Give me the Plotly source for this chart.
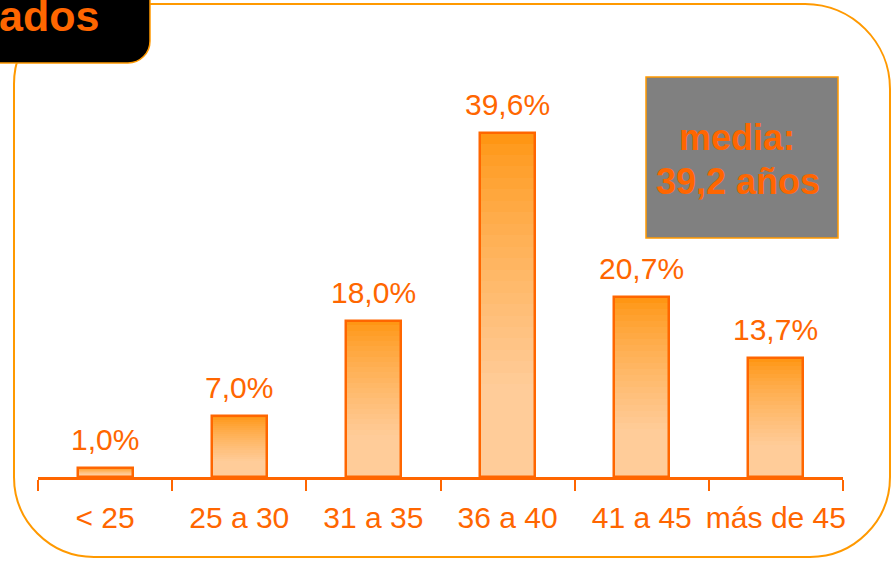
import plotly.graph_objects as go

categories = ["< 25", "25 a 30", "31 a 35", "36 a 40", "41 a 45", "más de 45"]
values = [1.0, 7.0, 18.0, 39.6, 20.7, 13.7]
labels = ["1,0%", "7,0%", "18,0%", "39,6%", "20,7%", "13,7%"]
media_lines = ["media:", "39,2 años"]
title_fragment = "ados"

ORANGE = "#FF6600"
FRAME = "#FF9900"
W, H = 892, 563
ML, MR, MT, MB = 38, 49, 60, 86
PW, PH = W - ML - MR, H - MT - MB
YMAX = 48.0
BAR_W = 0.41


def px(x):
    return (x - ML) / PW


def py(y):
    return (H - MB - y) / PH


def lerp(c1, c2, t):
    return "rgb(%d,%d,%d)" % tuple(round(a + (b - a) * t) for a, b in zip(c1, c2))


top_c = (255, 150, 20)
bot_c = (255, 204, 153)

fig = go.Figure()

# light base bar
fig.add_trace(go.Bar(x=categories, y=values, width=BAR_W,
                     marker=dict(color=lerp(top_c, bot_c, 1.0), line=dict(width=0)),
                     hoverinfo="skip", showlegend=False))

N = 30
for k in range(N):
    t = min(1.0, (k / (N - 1)) / 0.75) ** 0.8
    seg = [v / N * 1.08 for v in values]
    base = [v * (1 - (k + 1) / N) for v in values]
    fig.add_trace(go.Bar(x=categories, y=seg, base=base, width=BAR_W,
                         marker=dict(color=lerp(top_c, bot_c, t), line=dict(width=0)),
                         hoverinfo="skip", showlegend=False))

# outline
fig.add_trace(go.Bar(x=categories, y=values, width=BAR_W,
                     marker=dict(color="rgba(0,0,0,0)", line=dict(color=ORANGE, width=2.5)),
                     hoverinfo="skip", showlegend=False))

for c, v, lab in zip(categories, values, labels):
    fig.add_annotation(x=c, y=v, text=lab, showarrow=False, yanchor="bottom", yshift=10,
                       font=dict(family="Liberation Sans, Arial", size=30, color=ORANGE))


def rounded_path(x0, y0, x1, y1, r_tl, r_tr, r_br, r_bl):
    k = 0.5523
    p = []
    p.append("M %f,%f" % (px(x0 + r_tl), py(y0)))
    p.append("L %f,%f" % (px(x1 - r_tr), py(y0)))
    if r_tr:
        p.append("C %f,%f %f,%f %f,%f" % (px(x1 - r_tr + k * r_tr), py(y0), px(x1), py(y0 + r_tr - k * r_tr), px(x1), py(y0 + r_tr)))
    p.append("L %f,%f" % (px(x1), py(y1 - r_br)))
    if r_br:
        p.append("C %f,%f %f,%f %f,%f" % (px(x1), py(y1 - r_br + k * r_br), px(x1 - r_br + k * r_br), py(y1), px(x1 - r_br), py(y1)))
    p.append("L %f,%f" % (px(x0 + r_bl), py(y1)))
    if r_bl:
        p.append("C %f,%f %f,%f %f,%f" % (px(x0 + r_bl - k * r_bl), py(y1), px(x0), py(y1 - r_bl + k * r_bl), px(x0), py(y1 - r_bl)))
    p.append("L %f,%f" % (px(x0), py(y0 + r_tl)))
    if r_tl:
        p.append("C %f,%f %f,%f %f,%f" % (px(x0), py(y0 + r_tl - k * r_tl), px(x0 + r_tl - k * r_tl), py(y0), px(x0 + r_tl), py(y0)))
    p.append("Z")
    return " ".join(p)


shapes = [
    dict(type="path", xref="paper", yref="paper",
         path=rounded_path(14, 4, 890, 557, 80, 85, 80, 80),
         line=dict(color=FRAME, width=2), fillcolor="rgba(0,0,0,0)", layer="below"),
    dict(type="path", xref="paper", yref="paper",
         path=rounded_path(-10, -10, 150, 63, 0, 0, 22, 0),
         line=dict(color=FRAME, width=1.5), fillcolor="black", layer="above"),
    dict(type="rect", xref="paper", yref="paper",
         x0=px(646), x1=px(838), y0=py(238), y1=py(77),
         line=dict(color=FRAME, width=1.5), fillcolor="#808080", layer="above"),
]

fig.add_annotation(xref="paper", yref="paper", x=px(-3), y=py(16), text="<b>%s</b>" % title_fragment,
                   showarrow=False, xanchor="left", yanchor="middle",
                   font=dict(family="Liberation Sans, Arial", size=43, color=ORANGE))
fig.add_annotation(xref="paper", yref="paper", x=px(737), y=py(138), text="<b>%s</b>" % media_lines[0],
                   showarrow=False, xanchor="center", yanchor="middle",
                   font=dict(family="Liberation Sans, Arial", size=36, color=ORANGE))
fig.add_annotation(xref="paper", yref="paper", x=px(738), y=py(181), text="<b>%s</b>" % media_lines[1],
                   showarrow=False, xanchor="center", yanchor="middle",
                   font=dict(family="Liberation Sans, Arial", size=36, color=ORANGE))

fig.update_layout(
    width=W, height=H, margin=dict(l=ML, r=MR, t=MT, b=MB, autoexpand=False),
    paper_bgcolor="white", plot_bgcolor="white",
    barmode="overlay", bargap=0, showlegend=False,
    shapes=shapes,
    xaxis=dict(type="category", range=[-0.5, 5.5], showline=True, linecolor=ORANGE, linewidth=3,
               ticks="outside", tickson="boundaries", ticklen=11, tickwidth=2, tickcolor=ORANGE,
               tickangle=0, automargin=False, ticklabelstandoff=12,
               showgrid=False, zeroline=False, fixedrange=True,
               tickfont=dict(family="Liberation Sans, Arial", size=30, color=ORANGE)),
    yaxis=dict(range=[0, YMAX], visible=False, showgrid=False, zeroline=False, fixedrange=True),
)

fig.write_html("out.html", config={"displayModeBar": False},
               post_script="document.body.style.margin='0';document.body.style.overflow='hidden';")
